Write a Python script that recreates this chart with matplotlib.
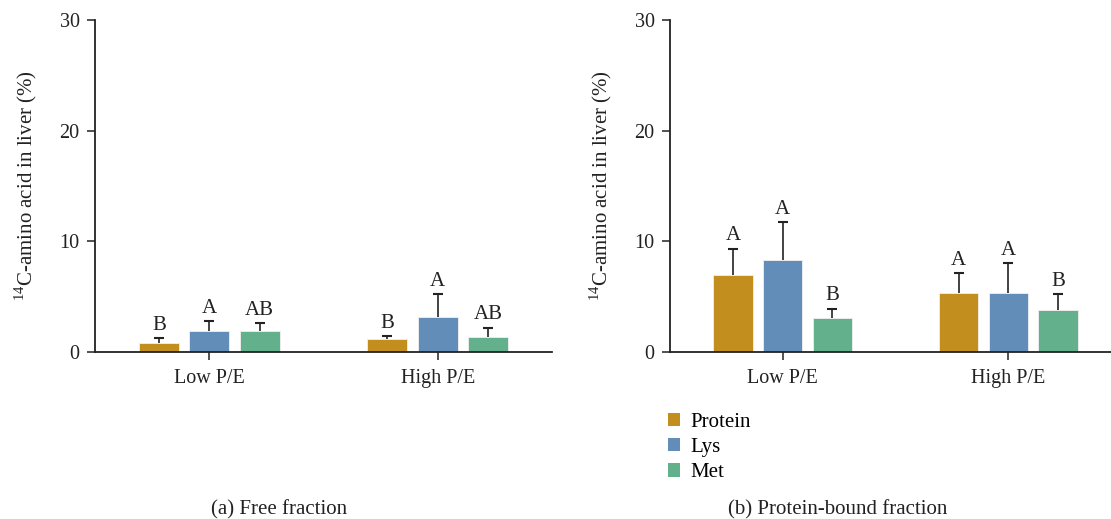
import matplotlib
matplotlib.use('Agg')
import matplotlib.pyplot as plt
from matplotlib.patches import Patch
import numpy as np

# data
groups = ['Low P/E', 'High P/E']
series = ['Protein', 'Lys', 'Met']
colors = ['#C28F1E', '#618DB8', '#63B08D']

free_mean = [[0.8, 1.15], [1.9, 3.2], [1.9, 1.35]]
free_err = [[0.45, 0.3], [0.9, 2.0], [0.7, 0.85]]
free_sig = [['B', 'B'], ['A', 'A'], ['AB', 'AB']]

bound_mean = [[7.0, 5.3], [8.3, 5.3], [3.05, 3.8]]
bound_err = [[2.35, 1.8], [3.45, 2.75], [0.88, 1.4]]
bound_sig = [['A', 'A'], ['A', 'A'], ['B', 'B']]

yticks = [0, 10, 20, 30]
ylabel = '$^{14}$C-amino acid in liver (%)'

plt.rcParams['font.family'] = ['Liberation Serif', 'DejaVu Serif']
plt.rcParams['mathtext.fontset'] = 'custom'
plt.rcParams['mathtext.rm'] = 'Liberation Serif'

INK = '#222222'
W, H = 1111, 519
fig = plt.figure(figsize=(W / 100, H / 100), dpi=100)


def px_axes(x0, x1, y0, y1):
    return fig.add_axes([x0 / W, 1 - y1 / H, (x1 - x0) / W, (y1 - y0) / H])


def draw(ax, means, errs, sigs):
    x = np.arange(len(groups))
    width, step = 0.175, 0.22
    for i, (m, e, s) in enumerate(zip(means, errs, sigs)):
        xs = x + (i - 1) * step
        m, e = np.array(m), np.array(e)
        ax.bar(xs, m, width=width, color=colors[i], edgecolor='#f0f0f0',
               linewidth=0.6, zorder=2)
        # upper error only, cap at the top end
        ax.vlines(xs, m, m + e, color=INK, linewidth=1.2, zorder=3)
        ax.plot(xs, m + e, linestyle='none', marker='_', markersize=7.5,
                markeredgewidth=1.5, color=INK, zorder=3)
        for xi, top, si in zip(xs, m + e, s):
            ax.text(xi, top + 0.3, si, ha='center', va='bottom',
                    fontsize=15, color=INK)
    ax.set_xlim(-0.5, 1.5)
    ax.set_ylim(0, 30)
    ax.set_yticks(yticks)
    ax.set_xticks(x)
    ax.set_xticklabels(groups)
    ax.tick_params(axis='both', labelsize=14.5, colors=INK, length=6,
                   width=1.1, direction='out')
    ax.tick_params(axis='x', pad=6)
    ax.tick_params(axis='y', pad=5)
    ax.spines['top'].set_visible(False)
    ax.spines['right'].set_visible(False)
    for sp in ('left', 'bottom'):
        ax.spines[sp].set_linewidth(1.3)
        ax.spines[sp].set_color(INK)
    ax.set_ylabel(ylabel, fontsize=15, color=INK, labelpad=15)


ax1 = px_axes(95, 552, 20, 352)
draw(ax1, free_mean, free_err, free_sig)

ax2 = px_axes(670, 1121, 20, 352)
draw(ax2, bound_mean, bound_err, bound_sig)

handles = [Patch(facecolor=c, edgecolor='none') for c in colors]
fig.legend(handles, series, loc='upper left', bbox_to_anchor=(649 / W, 1 - 394 / H),
           frameon=False, fontsize=15, handlelength=0.6, handleheight=0.6,
           handletextpad=0.5, labelspacing=0.3)

fig.text(279 / W, 1 - 510 / H, '(a) Free fraction', ha='center', va='center',
         fontsize=15, color=INK)
fig.text(838 / W, 1 - 510 / H, '(b) Protein-bound fraction', ha='center',
         va='center', fontsize=15, color=INK)

fig.savefig('out.png', dpi=100)
